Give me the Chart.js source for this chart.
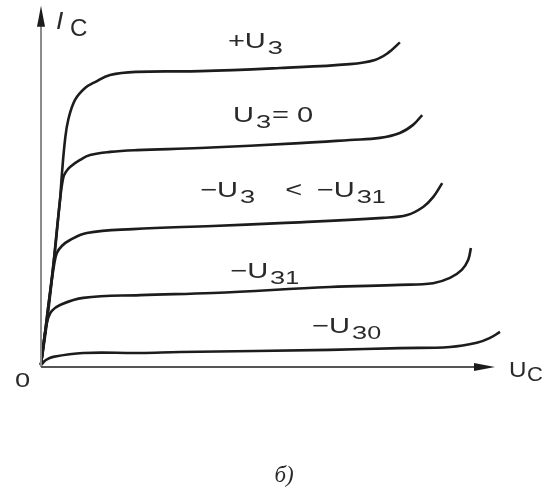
<!DOCTYPE html>
<html>
<head>
<meta charset="utf-8">
<script src="https://cdn.jsdelivr.net/npm/chart.js@4.4.1/dist/chart.umd.min.js"></script>
<style>
    html, body { margin: 0; padding: 0; background: #fff; }
</style>
</head>
<body>
<canvas id="chart" width="547" height="490"></canvas>
<script>
/* Drain characteristics I_C(U_C), one curve per gate voltage (arbitrary units) */

const vdsPlus = [0.02, 0.13, 0.26, 0.37, 0.44, 0.48, 0.55, 0.62, 0.77, 0.99, 1.21, 1.54, 2.13, 3.52, 5.27, 6.81, 7.36, 7.65, 7.91];
const idPlus  = [0.03, 1.03, 2.45, 3.87, 4.73, 5.44, 6.44, 7.01, 7.58, 7.92, 8.09, 8.29, 8.38, 8.40, 8.49, 8.60, 8.72, 8.92, 9.22];

const vdsZero = [0.02, 0.11, 0.20, 0.33, 0.44, 0.51, 0.57, 0.66, 0.88, 1.10, 1.54, 2.13, 3.52, 5.71, 6.81, 7.47, 7.91, 8.20, 8.40];
const idZero  = [0.03, 0.94, 1.88, 3.30, 4.73, 5.36, 5.53, 5.67, 5.87, 6.01, 6.10, 6.15, 6.21, 6.35, 6.44, 6.50, 6.64, 6.87, 7.15];

const vdsNeg = [0.02, 0.11, 0.20, 0.31, 0.37, 0.48, 0.66, 1.03, 2.04, 3.80, 5.27, 7.54, 8.07, 8.42, 8.64, 8.84];
const idNeg  = [0.03, 0.94, 1.88, 2.88, 3.22, 3.42, 3.59, 3.79, 3.90, 3.99, 4.07, 4.22, 4.30, 4.53, 4.81, 5.21];

const vdsNeg1 = [0.02, 0.11, 0.18, 0.26, 0.44, 0.95, 2.20, 3.80, 6.37, 7.91, 8.64, 9.01, 9.27, 9.41, 9.47];
const idNeg1  = [0.03, 0.94, 1.37, 1.57, 1.74, 1.94, 2.02, 2.08, 2.25, 2.31, 2.36, 2.51, 2.74, 3.02, 3.36];

const vdsCut = [0.02, 0.13, 0.29, 0.95, 2.20, 3.08, 6.37, 7.91, 9.01, 9.60, 9.89, 10.11];
const idCut  = [0.03, 0.17, 0.26, 0.37, 0.37, 0.40, 0.46, 0.51, 0.54, 0.66, 0.80, 0.97];

// curve labels, _{...} marks a subscript
const curveLabels = ['+U_{З}', 'U_{З}= 0', '\u2212U_{З}\u2002\u2002<\u2002\u2212U_{З1}', '\u2212U_{З1}', '\u2212U_{З0}'];

const xAxisTitle = ['U', 'C'];
const yAxisTitle = ['I', 'C'];
const originText = '0';
const captionText = 'б)';

const FONT = '"Liberation Sans", Arial, sans-serif';
const INK = '#1c1c1c';
const STRETCH = 1.32;   // the book lettering is wider than Liberation Sans

function toPoints(xs, ys) {
    return xs.map((x, i) => ({ x: x, y: ys[i] }));
}

function drawWide(ctx, text, x, y, font, sx) {
    ctx.save();
    ctx.translate(x, y);
    ctx.scale(sx, 1);
    ctx.font = font;
    ctx.fillText(text, 0, 0);
    const w = ctx.measureText(text).width * sx;
    ctx.restore();
    return w;
}

function drawRich(ctx, str, x, y, size) {
    const parts = str.split(/_\{([^}]*)\}/);
    parts.forEach((p, i) => {
        if (!p) return;
        const sub = i % 2 === 1;
        const font = `${sub ? Math.round(size * 0.86) : size}px ${FONT}`;
        x += drawWide(ctx, p, sub ? x + 2 : x, sub ? y + 6 : y, font, STRETCH) + (sub ? 3 : 0);
    });
}

// axes with arrows, curve labels and captions
const sketchPlugin = {
    id: 'sketch',
    afterDraw(chart, args, opts) {
        const ctx = chart.ctx;
        const xs = chart.scales.x;
        const ys = chart.scales.y;
        const x0 = xs.getPixelForValue(0) + 1;
        const y0 = ys.getPixelForValue(0) + 1;
        const xEnd = xs.getPixelForValue(10);
        const yEnd = ys.getPixelForValue(10.26);

        ctx.save();
        ctx.lineWidth = 2;
        ctx.strokeStyle = '#8c8c8c';
        ctx.beginPath();
        ctx.moveTo(x0, y0);
        ctx.lineTo(x0, yEnd + 10);
        ctx.stroke();
        ctx.strokeStyle = '#555';
        ctx.beginPath();
        ctx.moveTo(x0, y0);
        ctx.lineTo(xEnd - 10, y0);
        ctx.stroke();

        ctx.fillStyle = INK;
        ctx.beginPath();
        ctx.moveTo(x0, yEnd);
        ctx.lineTo(x0 - 4, yEnd + 21);
        ctx.lineTo(x0 + 4, yEnd + 21);
        ctx.closePath();
        ctx.fill();
        ctx.beginPath();
        ctx.moveTo(xEnd, y0);
        ctx.lineTo(xEnd - 21, y0 - 4);
        ctx.lineTo(xEnd - 21, y0 + 4);
        ctx.closePath();
        ctx.fill();

        ctx.fillStyle = '#2a2a2a';
        ctx.textBaseline = 'alphabetic';
        ctx.textAlign = 'left';
        opts.anchors.forEach((a, i) => {
            drawRich(ctx, curveLabels[i], xs.getPixelForValue(a[0]), ys.getPixelForValue(a[1]), 22);
        });

        // I_C
        drawWide(ctx, yAxisTitle[0], x0 + 15, yEnd + 23, `italic 24px ${FONT}`, 1.1);
        drawWide(ctx, yAxisTitle[1], x0 + 29, yEnd + 30, `23px ${FONT}`, 1.05);
        // U_C
        drawWide(ctx, xAxisTitle[0], xEnd + 14, y0 + 10, `22px ${FONT}`, 1.1);
        drawWide(ctx, xAxisTitle[1], xEnd + 32, y0 + 14, `20px ${FONT}`, 1.1);
        // origin
        drawWide(ctx, originText, x0 - 26, y0 + 20, `21px ${FONT}`, 1.3);
        // caption
        ctx.textAlign = 'center';
        ctx.font = `italic 23px "Liberation Serif", "Times New Roman", serif`;
        ctx.fillText(captionText, 284, 482);
        ctx.restore();
    }
};

const curveStyle = {
    borderColor: INK,
    borderWidth: 2.6,
    pointRadius: 0,
    fill: false,
    tension: 0.4,
    clip: false
};

new Chart(document.getElementById('chart').getContext('2d'), {
    type: 'line',
    data: {
        datasets: [
            { ...curveStyle, data: toPoints(vdsPlus, idPlus) },
            { ...curveStyle, data: toPoints(vdsZero, idZero) },
            { ...curveStyle, data: toPoints(vdsNeg, idNeg) },
            { ...curveStyle, data: toPoints(vdsNeg1, idNeg1) },
            { ...curveStyle, data: toPoints(vdsCut, idCut) }
        ]
    },
    options: {
        responsive: false,
        animation: false,
        layout: { padding: { left: 40, right: 52, top: 15, bottom: 124 } },
        plugins: {
            legend: { display: false },
            tooltip: { enabled: false },
            sketch: {
                anchors: [[4.13, 9.06], [4.24, 6.95], [3.52, 4.81], [4.18, 2.51], [5.98, 0.94]]
            }
        },
        scales: {
            x: { type: 'linear', min: 0, max: 10, display: false },
            y: { type: 'linear', min: 0, max: 10, display: false }
        }
    },
    plugins: [sketchPlugin]
});
</script>
</body>
</html>
